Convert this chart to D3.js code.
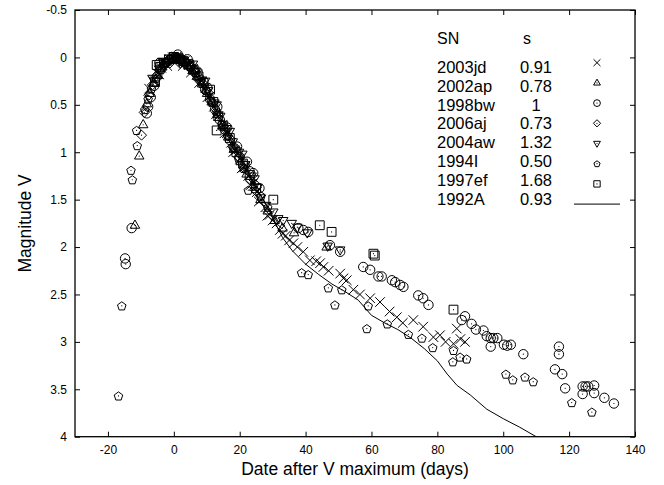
<!DOCTYPE html>
<html>
<head>
<meta charset="utf-8">
<script src="https://cdn.jsdelivr.net/npm/d3@7"></script>
<style>
body { margin: 0; background: #fff; }
text { font-family: "Liberation Sans", Arial, Helvetica, sans-serif; fill: #000; }
</style>
</head>
<body>
<script>
// axis ticks
var xTicks = [-20, 0, 20, 40, 60, 80, 100, 120, 140];
var yTicks = [-0.5, 0, 0.5, 1, 1.5, 2, 2.5, 3, 3.5, 4];

// legend
var snNames = ["2003jd", "2002ap", "1998bw", "2006aj", "2004aw", "1994I", "1997ef", "1992A"];
var stretch = ["0.91", "0.78", "1", "0.73", "1.32", "0.50", "1.68", "0.93"];

// [days after V max, magnitude V]
var sn2003jd = [[-7.5,0.33],[-6.2,0.25],[-5,0.17],[-4.4,0.18],[-3.8,0.11],[-2.6,0.06],[-2,0.09],[-1.4,0.02],
    [-0.3,0.0],[0.3,0.06],[0.9,-0.01],[2.1,0.02],[2.7,0.09],[3.3,0.04],[4.6,0.08],[5.2,0.16],[5.8,0.12],[7.1,0.18],
    [7.7,0.27],[8.4,0.25],[9.6,0.32],[10.2,0.42],[10.9,0.41],[12.2,0.52],[12.8,0.6],[13.5,0.62],[14.8,0.71],
    [15.4,0.8],[16.1,0.8],[17.4,0.9],[18,1.0],[18.7,0.98],[20,1.07],[20.6,1.17],[21.3,1.16],[22.6,1.25],[23.2,1.35],
    [23.9,1.33],[25.2,1.42],[25.8,1.52],[26.5,1.5],[27.8,1.58],[28.4,1.67],[29.1,1.66],[30,1.72],[31.2,1.75],
    [32.2,1.82],[33,1.86],[34,1.88],[35,1.93],[36.3,1.96],[37.5,2.0],[39.3,2.05],[41.3,2.14],[43.2,2.15],[44.4,2.17],
    [45.4,2.21],[47,2.25],[50.5,2.28],[51.5,2.33],[52.5,2.35],[54.5,2.45],[56.5,2.5],[59.6,2.54],[62.6,2.58],
    [65.5,2.68],[67.7,2.74],[69.5,2.8],[72.7,2.77],[75.7,2.84],[78.8,2.95],[80.8,2.93],[82.5,3.0],[84.9,3.02],
    [85.9,2.86],[87,2.97],[88.4,3.0]];
var sn2002ap = [[-11.8,1.77],[-10.5,1.04],[-9.3,0.71],[-8.2,0.49],[-7.3,0.38],[-6.1,0.27],[-4.9,0.19],[-3.5,0.1],
    [-2.2,0.05],[-0.8,0.02],[0.5,0.01],[1.8,0.03],[3.0,0.05],[4.4,0.09],[5.7,0.14],[7.0,0.2],[8.6,0.28],
    [10.1,0.38],[11.5,0.47],[13.2,0.6],[14.7,0.72],[16.5,0.84],[18.2,0.97],[20.3,1.1],[22.1,1.23],[24.4,1.37],
    [26.3,1.5],[28.5,1.62],[30.6,1.72],[33,1.8],[36.5,1.85],[46.4,2.0]];
var sn1998bw = [[-14.8,2.12],[-14.6,2.18],[-12.8,1.80],[-8.2,0.59],[-7.8,0.52],[-7,0.42],[-6,0.3],[-5,0.2],
    [-4.4,0.06],[-3.8,0.12],[-2.5,0.06],[-1,0.02],[0.5,0.0],[1.2,-0.03],[2,0.02],[3.5,0.06],[4.2,0.02],[5,0.1],
    [6.5,0.16],[7.2,0.15],[8,0.24],[9.5,0.34],[10.2,0.32],[11,0.44],[12.5,0.55],[13.2,0.52],[14,0.66],[15.5,0.76],
    [16.2,0.74],[17,0.87],[18.5,0.96],[19.2,0.94],[20,1.05],[21.5,1.14],[22.2,1.1],[23,1.2],[24.1,1.22],
    [26,1.38],[37.8,1.8],[39.3,1.82],[40.8,1.84],[47.4,1.98],[50.5,2.05],[57.5,2.21],[59.6,2.24],[62.1,2.31],
    [63.1,2.31],[66.2,2.35],[67.2,2.37],[68.7,2.40],[69.7,2.42],[74.2,2.51],[75.7,2.54],[77.3,2.61],[87.4,2.77],
    [88.4,2.73],[90.4,2.81],[91.7,2.87],[94,2.88],[95,2.94],[96.2,2.96],[97,2.96],[98.2,2.96],[96.2,3.05],
    [100.2,3.03],[101.2,3.04],[102.3,3.03],[106.1,3.13],[115.7,3.29],[116.9,3.05],[116.9,3.13],[117.9,3.34],
    [118.8,3.49],[124.1,3.47],[125,3.47],[125.8,3.47],[127.6,3.46],[124.1,3.55],[127.6,3.54],[130.7,3.59],
    [133.6,3.65]];
var sn2006aj = [[-9.8,0.82],[-9.0,0.58],[-7.6,0.4],[-6.5,0.29],[-5.4,0.2],[-4.2,0.13],[-3,0.08],[-1.8,0.03],
    [-0.5,0.01],[0.8,0.0],[2.2,0.01],[3.6,0.04],[5,0.08],[6.3,0.13],[7.6,0.2],[9,0.28],[10.4,0.37],[11.8,0.48],
    [13.3,0.6],[14.9,0.72],[16.4,0.83],[18,0.94],[19.7,1.05],[21.4,1.17],[23.2,1.29],[25,1.41]];
var sn2004aw = [[-6.5,0.22],[-4.5,0.12],[-3.5,0.04],[-2.6,0.05],[-0.7,0.01],[0,-0.02],[1.2,0.01],[2,0.06],[3,0.03],
    [4.8,0.08],[5.8,0.07],[6.7,0.15],[8.5,0.24],[9.5,0.25],[10.4,0.35],[12.3,0.48],[13,0.5],[14.1,0.62],[16,0.75],
    [17,0.78],[17.9,0.89],[19.8,1.0],[20.8,1.02],[21.7,1.13],[23.6,1.25],[24.5,1.28],[25.4,1.37],[26.2,1.48],
    [28,1.56],[30.2,1.63],[31.7,1.70],[33.2,1.72],[35.8,1.75],[37.5,1.79],[40.5,1.85],[46.7,1.99],[50.5,2.03]];
var sn1994I = [[-16.8,3.57],[-15.8,2.62],[-13.0,1.19],[-12.6,1.29],[-11.1,0.93],[-11.3,0.77],[-8.8,0.55],
    [-7.8,0.44],[-6.8,0.33],[-5.4,0.22],[-3.9,0.13],[-2.3,0.05],[-0.9,0.01],[0.6,0.0],[2.0,0.02],[3.5,0.05],
    [5.1,0.1],[6.6,0.16],[8.2,0.25],[9.8,0.35],[11.4,0.46],[13,0.57],[14.6,0.7],[16.3,0.82],[18,0.95],[19.6,1.06],
    [21.2,1.17],[22.6,1.40],[24.5,1.33],[26.5,1.46],[28.5,1.58],[38.8,2.27],[40.8,2.29],[46.9,2.43],[48.9,2.61],
    [51,2.45],[59,2.62],[58.6,2.86],[64.8,2.81],[71.2,2.92],[75.3,2.96],[78.6,3.06],[84.9,3.09],[84.7,3.21],
    [86.9,3.16],[88.9,3.18],[100.8,3.34],[102.9,3.40],[106.6,3.37],[109.1,3.42],[120.8,3.64],[126.9,3.74]];
var sn1997ef = [[-5.7,0.26],[-5.2,0.08],[-4.2,0.1],[-3,0.06],[-1.5,0.02],[0,0.0],[1.5,0.01],[3,0.04],[4.5,0.07],
    [6,0.13],[7.5,0.2],[9,0.27],[11,0.34],[12,0.47],[13,0.77],[13.5,0.62],[15,0.72],[17,0.85],[19,1.0],[21,1.12],
    [23,1.24],[25,1.38],[30.2,1.50],[44.3,1.77],[47.9,1.84],[60.6,2.07],[61,2.09],[84.9,2.66]];
var sn1992A = [[5,0.1],[10,0.36],[15,0.72],[20,1.05],[25,1.38],[28,1.55],[31,1.76],[33,1.9],[36,2.04],[40,2.18],
    [44,2.29],[48,2.39],[52,2.47],[56,2.56],[60,2.72],[64,2.8],[68,2.87],[72,2.96],[76,3.07],[80,3.2],[83,3.34],
    [86,3.46],[90,3.56],[95,3.71],[100,3.81],[105,3.9],[110,4.0]];

var width = 664,
    height = 485,
    margin = {left: 75, right: 29, top: 10, bottom: 48.3};

var svg = d3.select('body')
    .append('svg')
    .attr('width', width)
    .attr('height', height);

var x = d3.scaleLinear().domain([-30, 140]).range([margin.left, width - margin.right]);
var y = d3.scaleLinear().domain([-0.5, 4]).range([margin.top, height - margin.bottom]);

/**
 * marker shapes, size is the half width of the shape
 */
function shape(points) {
    return {
        draw: function (ctx, size) {
            ctx.moveTo(points[0][0] * size, points[0][1] * size);
            for (var i = 1; i < points.length; ++i) {
                ctx.lineTo(points[i][0] * size, points[i][1] * size);
            }
            ctx.closePath();
        }
    };
}
var pent = [];
for (var p = 0; p < 5; ++p) {
    var a = (p * 72 - 90) * Math.PI / 180;
    pent.push([Math.cos(a), Math.sin(a) + 0.1]);
}
var symTimes = {
    draw: function (ctx, size) {
        ctx.moveTo(-size, -size);
        ctx.lineTo(size, size);
        ctx.moveTo(-size, size);
        ctx.lineTo(size, -size);
    }
};
var symCircle = {
    draw: function (ctx, size) {
        ctx.moveTo(size, 0);
        ctx.arc(0, 0, size, 0, 2 * Math.PI);
    }
};
var symTriUp = shape([[0, -1.05], [0.95, 0.6], [-0.95, 0.6]]);
var symTriDown = shape([[0, 1.05], [0.95, -0.6], [-0.95, -0.6]]);
var symDiamond = shape([[0, -1], [1, 0], [0, 1], [-1, 0]]);
var symPent = shape(pent);
var symSquare = shape([[-0.9, -0.9], [0.9, -0.9], [0.9, 0.9], [-0.9, 0.9]]);

var series = [
    {data: sn2003jd, sym: symTimes, size: 4.8, dot: false},
    {data: sn2002ap, sym: symTriUp, size: 5, dot: true},
    {data: sn1998bw, sym: symCircle, size: 4.7, dot: true},
    {data: sn2006aj, sym: symDiamond, size: 5, dot: true},
    {data: sn2004aw, sym: symTriDown, size: 5, dot: true},
    {data: sn1994I, sym: symPent, size: 4.5, dot: true},
    {data: sn1997ef, sym: symSquare, size: 4.9, dot: true}
];

// axes, ticks pointing inwards
var fmt = function (d) { return String(d); };
svg.append('g')
    .attr('transform', 'translate(0,' + y(4) + ')')
    .call(d3.axisBottom(x).tickValues(xTicks).tickSize(-5).tickSizeOuter(0).tickPadding(9).tickFormat(fmt));
svg.append('g')
    .attr('transform', 'translate(' + x(-30) + ',0)')
    .call(d3.axisLeft(y).tickValues(yTicks).tickSize(-5).tickSizeOuter(0).tickPadding(8).tickFormat(fmt));
svg.append('g')
    .attr('transform', 'translate(0,' + y(-0.5) + ')')
    .call(d3.axisTop(x).tickValues(xTicks).tickSize(-5).tickSizeOuter(0).tickFormat(''));
svg.append('g')
    .attr('transform', 'translate(' + x(140) + ',0)')
    .call(d3.axisRight(y).tickValues(yTicks).tickSize(-5).tickSizeOuter(0).tickFormat(''));

svg.selectAll('.tick line').attr('stroke', '#000').attr('stroke-width', 1);
svg.selectAll('.domain').attr('stroke', 'none');
svg.selectAll('.tick text')
    .style('font-family', '"Liberation Sans", Arial, sans-serif')
    .style('font-size', '12px');

svg.append('rect')
    .attr('x', x(-30))
    .attr('y', y(-0.5))
    .attr('width', x(140) - x(-30))
    .attr('height', y(4) - y(-0.5))
    .attr('fill', 'none')
    .attr('stroke', '#000')
    .attr('stroke-width', 1.3);

svg.append('text')
    .attr('x', (x(-30) + x(140)) / 2)
    .attr('y', 475)
    .attr('text-anchor', 'middle')
    .style('font-size', '17.5px')
    .text('Date after V maximum (days)');
svg.append('text')
    .attr('transform', 'translate(31,' + (y(-0.5) + y(4)) / 2 + ') rotate(-90)')
    .attr('text-anchor', 'middle')
    .style('font-size', '17.5px')
    .text('Magnitude V');

// 1992A light curve
var line = d3.line()
    .x(function (d) { return x(d[0]); })
    .y(function (d) { return y(d[1]); });
svg.append('path')
    .datum(sn1992A)
    .attr('d', line)
    .attr('fill', 'none')
    .attr('stroke', '#000')
    .attr('stroke-width', 1);

function drawMarker(g, s, cx, cy, k) {
    g.append('path')
        .attr('transform', 'translate(' + cx + ',' + cy + ')')
        .attr('d', d3.symbol().type(s.sym).size(s.size * k)())
        .attr('fill', 'none')
        .attr('stroke', '#000')
        .attr('stroke-width', 1);
    if (s.dot) {
        g.append('circle')
            .attr('cx', cx)
            .attr('cy', cy)
            .attr('r', 0.6)
            .attr('fill', '#000');
    }
}

var marks = svg.append('g');
for (var i = 0; i < series.length; ++i) {
    for (var j = 0; j < series[i].data.length; ++j) {
        drawMarker(marks, series[i], x(series[i].data[j][0]), y(series[i].data[j][1]), 1);
    }
}

// legend
var leg = svg.append('g');
leg.append('text').attr('x', 437).attr('y', 44).style('font-size', '16px').text('SN');
leg.append('text').attr('x', 527).attr('y', 44).attr('text-anchor', 'middle').style('font-size', '16px').text('s');
for (var n = 0; n < snNames.length; ++n) {
    leg.append('text')
        .attr('x', 437)
        .attr('y', 72.7 + n * 18.9)
        .style('font-size', '16.5px')
        .text(snNames[n]);
    leg.append('text')
        .attr('x', 536)
        .attr('y', 72.7 + n * 18.9)
        .attr('text-anchor', 'middle')
        .style('font-size', '16.5px')
        .text(stretch[n]);
    var sy = 62.7 + n * 20.2;
    if (n < series.length) {
        drawMarker(leg, series[n], 597, sy, 0.72);
    } else {
        leg.append('line')
            .attr('x1', 574).attr('x2', 620)
            .attr('y1', sy).attr('y2', sy)
            .attr('stroke', '#000')
            .attr('stroke-width', 1);
    }
}
</script>
</body>
</html>
